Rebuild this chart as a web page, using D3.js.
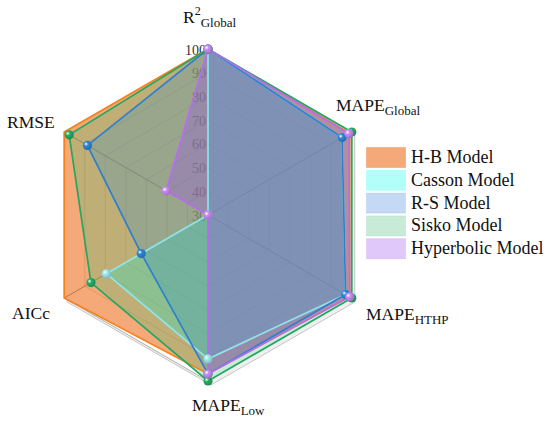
<!DOCTYPE html>
<html>
<head>
<meta charset="utf-8">
<script src="https://cdn.jsdelivr.net/npm/d3@7"></script>
<style>
  html, body { margin: 0; padding: 0; background: #fff; }
  svg { display: block; font-family: "Liberation Serif", "Times New Roman", serif; }
</style>
</head>
<body>
<svg id="chart" width="550" height="427"></svg>
<script>
// ---------------- data ----------------
const axes = ["R2Global", "MAPEGlobal", "MAPEHTHP", "MAPELow", "AICc", "RMSE"];
const seriesNames = ["H-B Model", "Casson Model", "R-S Model", "Sisko Model", "Hyperbolic Model"];
const hbValues         = [100, 99, 99, 97, 100, 100];
const cassonValues     = [100, 95.3, 97, 90.7, 79.5, 30];
const rsValues         = [100, 95.3, 97, 97, 62.5, 88.7];
const siskoValues      = [100, 100, 100, 100, 87, 97.6];
const hyperbolicValues = [100, 98.6, 99, 97, 30, 50.4];
const tickValues = [30, 40, 50, 60, 70, 80, 90, 100];

// ---------------- styles ----------------
const fillColors = ["rgb(238,110,30)", "rgb(0,255,240)", "rgb(60,130,220)", "rgb(70,190,120)", "rgb(152,72,238)"];
const fillAlpha  = [0.6, 0.3, 0.3, 0.3, 0.3];
const lineColors = ["#f5821f", "#8ee6ec", "#2d7fd2", "#22a862", "#b56ef0"];
const dotColors  = [null, "#9fe9ef", "#2f86d6", "#26ad66", "#c98cf5"];

const series = [hbValues, cassonValues, rsValues, siskoValues, hyperbolicValues];

const cx = 208, cy = 215, R = 166;
const svg = d3.select("#chart");

const rScale = d3.scaleLinear().domain([30, 100]).range([0, R]);
const angle = d3.scaleLinear().domain([0, axes.length]).range([0, 2 * Math.PI]);
function pt(i, v) {
  const a = angle(i), r = rScale(v);
  return [cx + r * Math.sin(a), cy - r * Math.cos(a)];
}
const lineGen = d3.line().curve(d3.curveLinearClosed);

// defs: sphere gradients
const defs = svg.append("defs");
dotColors.forEach((c, k) => {
  if (!c) return;
  const g = defs.append("radialGradient").attr("id", "dot" + k)
    .attr("cx", "35%").attr("cy", "35%").attr("r", "65%");
  g.append("stop").attr("offset", "0%").attr("stop-color", "#ffffff");
  g.append("stop").attr("offset", "35%").attr("stop-color", c);
  g.append("stop").attr("offset", "100%").attr("stop-color", d3.color(c).darker(0.6));
});

// shadow plate (3D look)
const outer = axes.map((a, i) => pt(i, 100));
svg.append("path")
  .attr("d", lineGen(outer.map(p => [p[0] + 3, p[1] + 4])))
  .attr("fill", "#f0f0f0").attr("stroke", "#c4c4c4").attr("stroke-width", 1);
svg.append("path")
  .attr("d", lineGen(outer))
  .attr("fill", "#fff").attr("stroke", "#b0b0b0").attr("stroke-width", 1);

// grid hexagons
tickValues.slice(1, -1).forEach(v => {
  svg.append("path")
    .attr("d", lineGen(axes.map((a, i) => pt(i, v))))
    .attr("fill", "none").attr("stroke", "#c8c8c8").attr("stroke-width", 0.8);
});

// spokes
axes.forEach((a, i) => {
  const p = pt(i, 100);
  svg.append("line").attr("x1", cx).attr("y1", cy).attr("x2", p[0]).attr("y2", p[1])
    .attr("stroke", "#555").attr("stroke-width", 0.8);
});

// tick labels along top axis
svg.append("g").selectAll("text").data(tickValues).join("text")
  .attr("x", cx - 2)
  .attr("y", d => pt(0, d)[1] + 1)
  .attr("text-anchor", "end")
  .attr("dominant-baseline", "central")
  .attr("font-size", 14)
  .attr("fill", "#333")
  .text(d => d);

// fills
series.forEach((vals, k) => {
  svg.append("path")
    .attr("d", lineGen(vals.map((v, i) => pt(i, v))))
    .attr("fill", fillColors[k]).attr("fill-opacity", fillAlpha[k]).attr("stroke", "none");
});

// outlines
series.forEach((vals, k) => {
  svg.append("path")
    .attr("d", lineGen(vals.map((v, i) => pt(i, v))))
    .attr("fill", "none").attr("stroke", lineColors[k]).attr("stroke-width", 1.7)
    .attr("stroke-linejoin", "miter");
});

// markers
series.forEach((vals, k) => {
  if (!dotColors[k]) return;
  svg.append("g").selectAll("circle").data(vals).join("circle")
    .attr("cx", (v, i) => pt(i, v)[0])
    .attr("cy", (v, i) => pt(i, v)[1])
    .attr("r", 4.6)
    .attr("fill", "url(#dot" + k + ")");
});

// axis labels
function label(x, y, main, sub, sup) {
  const t = svg.append("text").attr("x", x).attr("y", y).attr("fill", "#111");
  t.append("tspan").attr("font-size", 17.5).text(main);
  let dyBack = 0;
  if (sup) {
    t.append("tspan").attr("font-size", 12).attr("dy", -8).text(sup);
    dyBack = 8;
  }
  if (sub) t.append("tspan").attr("font-size", 13).attr("dy", dyBack + 4).text(sub);
}
label(183, 23, "R", "Global", "2");
label(336, 111, "MAPE", "Global");
label(366, 320, "MAPE", "HTHP");
label(192, 411, "MAPE", "Low");
label(7, 128, "RMSE");
label(12, 319, "AICc");

// legend
const lg = svg.append("g").attr("transform", "translate(366,147)");
const rowH = 22.8;
seriesNames.forEach((name, k) => {
  const g = lg.append("g").attr("transform", `translate(0,${k * rowH})`);
  g.append("rect").attr("x", 0.5).attr("y", 0.5).attr("width", 39).attr("height", 20)
    .attr("fill", fillColors[k]).attr("fill-opacity", fillAlpha[k])
    .attr("stroke", fillColors[k]).attr("stroke-opacity", fillAlpha[k] * 0.5);
  g.append("text").attr("x", 45).attr("y", 16).attr("font-size", 18).attr("fill", "#111").text(name);
});
</script>
</body>
</html>
